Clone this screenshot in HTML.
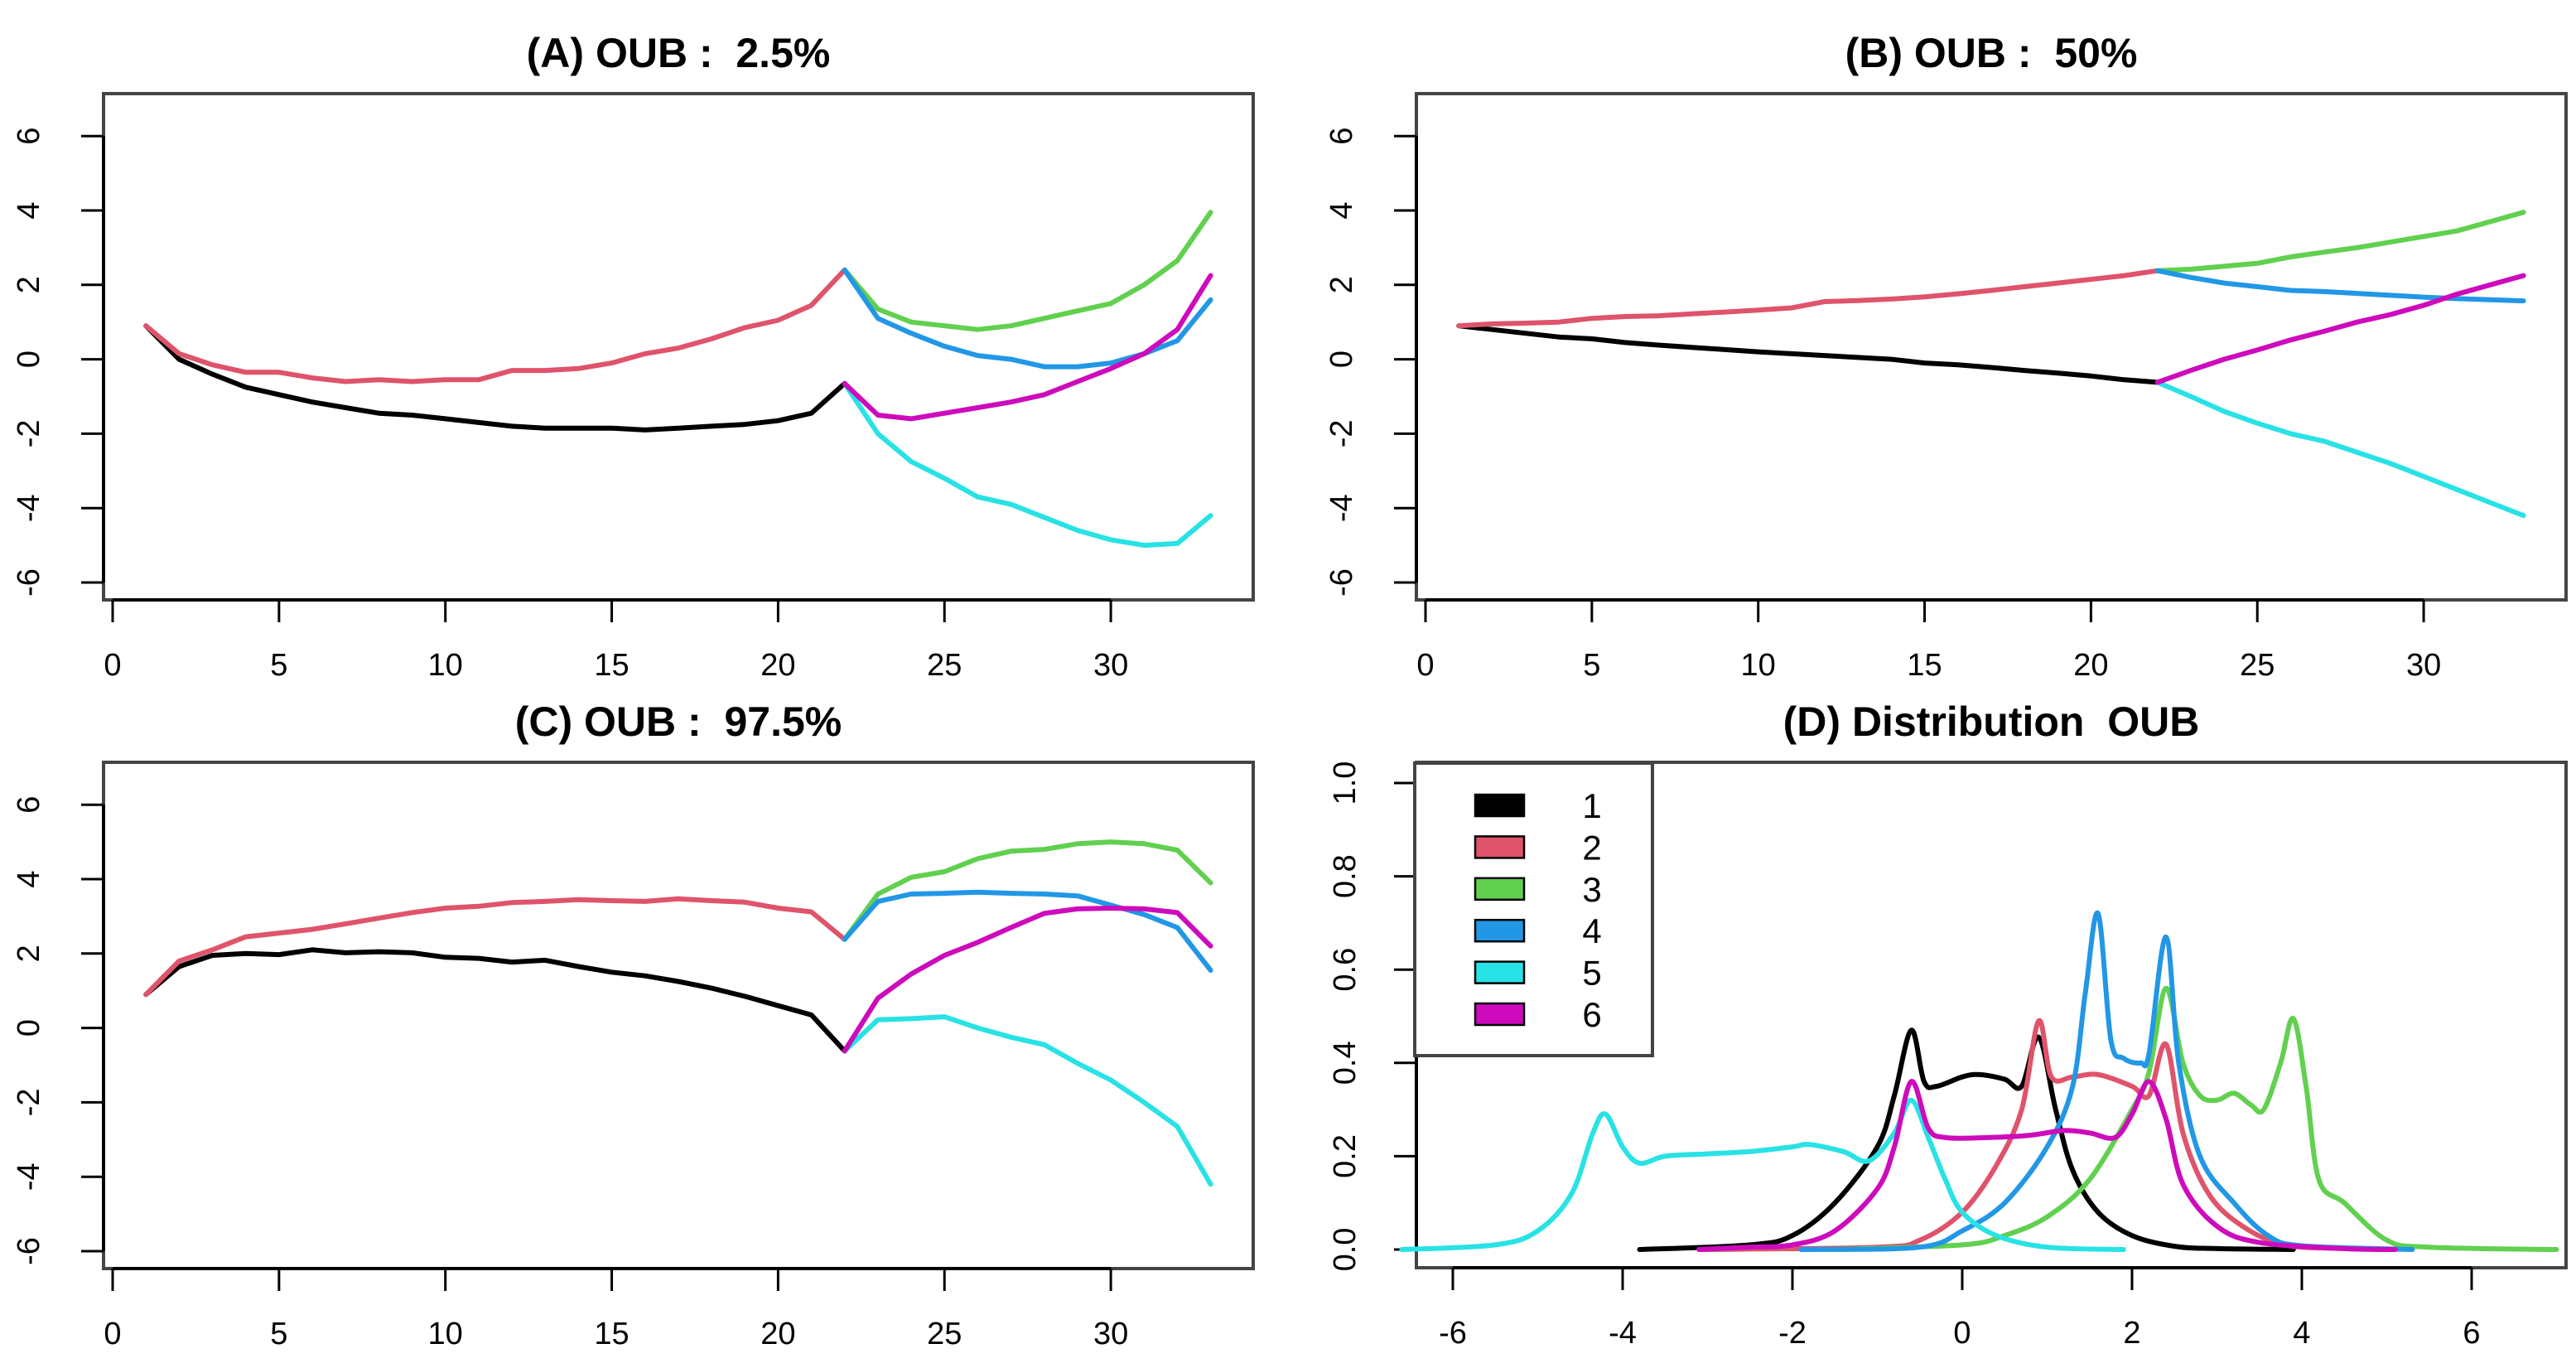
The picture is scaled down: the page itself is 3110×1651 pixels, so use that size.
<!DOCTYPE html>
<html><head><meta charset="utf-8"><style>
html,body{margin:0;padding:0;background:#fff;}
svg{display:block;font-family:"Liberation Sans",sans-serif;}
</style></head>
<body>
<svg id="fig" width="3110" height="1651" viewBox="0 0 3110 1651" xmlns="http://www.w3.org/2000/svg"></svg>
<script>
const COLORS = ["#000000","#DF536B","#61D04F","#2297E6","#28E2E5","#CD0BBC"];
const xTicks = [0,5,10,15,20,25,30];
const yTicks = [-6,-4,-2,0,2,4,6];
const stepsA = [1,2,3,4,5,6,7,8,9,10,11,12,13,14,15,16,17,18,19,20,21,22];
const stepsB = [22,23,24,25,26,27,28,29,30,31,32,33];

const aBlack = [0.9,0.0,-0.4,-0.75,-0.95,-1.15,-1.3,-1.45,-1.5,-1.6,-1.7,-1.8,-1.85,-1.85,-1.85,-1.9,-1.85,-1.8,-1.75,-1.65,-1.45,-0.65];
const aRed = [0.9,0.15,-0.15,-0.35,-0.35,-0.5,-0.6,-0.55,-0.6,-0.55,-0.55,-0.3,-0.3,-0.25,-0.1,0.15,0.3,0.55,0.85,1.05,1.45,2.4];
const aGreen = [2.4,1.35,1.0,0.9,0.8,0.9,1.1,1.3,1.5,2.0,2.65,3.95];
const aBlue = [2.4,1.1,0.7,0.35,0.1,0.0,-0.2,-0.2,-0.1,0.15,0.5,1.6];
const aCyan = [-0.65,-2.0,-2.75,-3.2,-3.7,-3.9,-4.25,-4.6,-4.85,-5.0,-4.95,-4.2];
const aMag = [-0.65,-1.5,-1.6,-1.45,-1.3,-1.15,-0.95,-0.6,-0.25,0.15,0.8,2.25];

const bBlack = [0.9,0.8,0.7,0.6,0.55,0.45,0.38,0.32,0.26,0.2,0.15,0.1,0.05,0.0,-0.1,-0.15,-0.22,-0.3,-0.37,-0.45,-0.55,-0.62];
const bRed = [0.9,0.95,0.97,1.0,1.1,1.15,1.17,1.22,1.27,1.32,1.38,1.55,1.58,1.62,1.68,1.76,1.85,1.95,2.05,2.15,2.25,2.38];
const bGreen = [2.38,2.42,2.5,2.58,2.75,2.88,3.0,3.15,3.3,3.45,3.7,3.95];
const bBlue = [2.38,2.2,2.05,1.95,1.85,1.82,1.77,1.72,1.67,1.63,1.6,1.57];
const bCyan = [-0.62,-1.0,-1.4,-1.72,-2.0,-2.2,-2.5,-2.8,-3.15,-3.5,-3.85,-4.2];
const bMag = [-0.62,-0.3,0.0,0.25,0.52,0.75,1.0,1.2,1.45,1.75,2.0,2.25];

const cBlack = [0.9,1.65,1.95,2.0,1.97,2.1,2.02,2.05,2.02,1.9,1.87,1.77,1.82,1.65,1.5,1.4,1.25,1.07,0.85,0.6,0.35,-0.62];
const cRed = [0.9,1.8,2.1,2.45,2.55,2.65,2.8,2.95,3.1,3.22,3.27,3.37,3.4,3.45,3.42,3.4,3.47,3.42,3.38,3.22,3.12,2.38];
const cGreen = [2.38,3.6,4.05,4.2,4.55,4.75,4.8,4.95,5.0,4.95,4.78,3.9];
const cBlue = [2.38,3.4,3.6,3.62,3.65,3.62,3.6,3.55,3.3,3.05,2.7,1.55];
const cCyan = [-0.62,0.22,0.25,0.3,0.0,-0.25,-0.45,-0.95,-1.4,-2.0,-2.65,-4.2];
const cMag = [-0.62,0.8,1.45,1.95,2.3,2.7,3.08,3.2,3.22,3.2,3.1,2.2];

const dXTicks = [-6,-4,-2,0,2,4,6];
const dYTicks = [0.0,0.2,0.4,0.6,0.8,1.0];
const dYLabels = ["0.0","0.2","0.4","0.6","0.8","1.0"];
const d1x = [-3.8,-2.5,-2,-1.5,-1.0,-0.8,-0.6,-0.45,-0.3,0,0.2,0.5,0.7,0.9,1.1,1.3,1.6,2,2.5,3,3.9];
const d1y = [0,0.01,0.03,0.1,0.22,0.33,0.47,0.36,0.35,0.37,0.375,0.365,0.35,0.455,0.3,0.17,0.08,0.03,0.007,0.002,0];
const d2x = [-3.1,-1,-0.5,0,0.4,0.7,0.9,1.05,1.3,1.6,2.0,2.2,2.4,2.6,2.9,3.3,3.8,4.5,5];
const d2y = [0,0.005,0.02,0.08,0.18,0.3,0.49,0.37,0.37,0.375,0.35,0.33,0.44,0.25,0.12,0.05,0.01,0.002,0];
const d3x = [-1.5,0,0.5,1,1.5,2.0,2.2,2.4,2.6,2.8,3.0,3.2,3.4,3.55,3.75,3.9,4.05,4.2,4.5,5,5.5,7];
const d3y = [0,0.01,0.03,0.07,0.15,0.3,0.38,0.56,0.4,0.33,0.32,0.335,0.31,0.3,0.4,0.495,0.35,0.15,0.1,0.02,0.005,0];
const d4x = [-1.9,-0.5,0,0.5,1.0,1.3,1.45,1.6,1.75,1.9,2.1,2.2,2.4,2.55,2.8,3.2,3.6,4,5.3];
const d4y = [0,0.005,0.04,0.1,0.22,0.35,0.55,0.72,0.45,0.41,0.4,0.42,0.67,0.4,0.2,0.1,0.03,0.008,0];
const d5x = [-6.6,-5.5,-5,-4.6,-4.35,-4.2,-4.0,-3.8,-3.5,-3,-2.5,-2,-1.8,-1.4,-1.1,-0.8,-0.6,-0.4,-0.2,0,0.4,1,1.9];
const d5y = [0,0.01,0.04,0.12,0.25,0.29,0.22,0.185,0.2,0.205,0.21,0.22,0.225,0.21,0.19,0.25,0.32,0.24,0.15,0.08,0.03,0.005,0];
const d6x = [-3.1,-2.5,-2,-1.5,-1.0,-0.8,-0.6,-0.4,-0.2,0.3,0.8,1.2,1.5,1.8,2.0,2.2,2.4,2.6,3,3.5,4.5,5.1];
const d6y = [0,0.005,0.01,0.04,0.13,0.22,0.36,0.26,0.24,0.24,0.245,0.255,0.25,0.24,0.29,0.36,0.28,0.14,0.05,0.015,0.002,0];
const legendLabels = ["1","2","3","4","5","6"];

const NS = "http://www.w3.org/2000/svg";
const svg = document.getElementById("fig");
function mk(tag, attrs, parent){
  const e = document.createElementNS(NS, tag);
  for (const k in attrs) e.setAttribute(k, attrs[k]);
  (parent||svg).appendChild(e);
  return e;
}

function panel(key, title, box, xAx, yAx, xt, yt, ytl, labX){
  const g = mk("g", {});
  
  
  const t = mk("text", {x:(box.l+box.r)/2, y:box.t-32, "text-anchor":"middle", "font-size":50, "font-weight":"bold", "xml:space":"preserve", style:"white-space:pre"}, g);
  t.textContent = title;
  
  
  const r = mk("rect", {x:box.l, y:box.t, width:box.r-box.l, height:box.b-box.t, fill:"none", stroke:"#444", "stroke-width":4}, g);
  
  
  const xa = mk("g", {}, g);
  
  
  mk("line", {x1:xAx(xt[0]), x2:xAx(xt[xt.length-1]), y1:box.b, y2:box.b, stroke:"#000", "stroke-width":4}, xa);
  xt.forEach(v=>{
    mk("line", {x1:xAx(v), x2:xAx(v), y1:box.b, y2:box.b+27, stroke:"#000", "stroke-width":3}, xa);
    const tx = mk("text", {x:xAx(v), y:box.b+91, "text-anchor":"middle", "font-size":38}, xa);
    tx.textContent = String(v);
    
    
  });
  const ya = mk("g", {}, g);
  
  
  mk("line", {x1:box.l, x2:box.l, y1:yAx(yt[0]), y2:yAx(yt[yt.length-1]), stroke:"#000", "stroke-width":4}, ya);
  yt.forEach((v,i)=>{
    mk("line", {x1:box.l-27, x2:box.l, y1:yAx(v), y2:yAx(v), stroke:"#000", "stroke-width":3}, ya);
    const lx = labX, ly = yAx(v);
    const tx = mk("text", {x:lx, y:ly, "text-anchor":"middle", "font-size":38, transform:`rotate(-90 ${lx} ${ly})`}, ya);
    tx.textContent = ytl[i];
    
    
  });
  return g;
}

function line(g, name, xs, ys, xAx, yAx, color, smooth){
  let pts = xs.map((x,i)=>[xAx(x), yAx(ys[i])]);
  let d;
  if (!smooth) d = "M" + pts.map(p=>p[0].toFixed(1)+","+p[1].toFixed(1)).join(" L");
  else {
    d = "M"+pts[0][0]+","+pts[0][1];
    for (let i=0;i<pts.length-1;i++){
      const p0=pts[Math.max(0,i-1)], p1=pts[i], p2=pts[i+1], p3=pts[Math.min(pts.length-1,i+2)];
      const c1=[p1[0]+(p2[0]-p0[0])/6, p1[1]+(p2[1]-p0[1])/6];
      const c2=[p2[0]-(p3[0]-p1[0])/6, p2[1]-(p3[1]-p1[1])/6];
      d+=` C${c1[0].toFixed(1)},${c1[1].toFixed(1)} ${c2[0].toFixed(1)},${c2[1].toFixed(1)} ${p2[0].toFixed(1)},${p2[1].toFixed(1)}`;
    }
  }
  const p = mk("path", {d, fill:"none", stroke:color, "stroke-width":6, "stroke-linejoin":"round", "stroke-linecap":"round"}, g);
  
  
}

function tsPanel(key, title, bx, by, s){
  const box = {l:bx, r:bx+1388, t:by, b:by+611};
  const xAx = v => bx + 11 + v*40.17;
  const yAx = v => by + 320.6 - v*44.9;
  const g = panel(key, title, box, xAx, yAx, xTicks, yTicks, yTicks.map(String), bx-78);
  line(g, key+"-series-1", stepsA, s[0], xAx, yAx, COLORS[0]);
  line(g, key+"-series-2", stepsA, s[1], xAx, yAx, COLORS[1]);
  line(g, key+"-series-3", stepsB, s[2], xAx, yAx, COLORS[2]);
  line(g, key+"-series-4", stepsB, s[3], xAx, yAx, COLORS[3]);
  line(g, key+"-series-5", stepsB, s[4], xAx, yAx, COLORS[4]);
  line(g, key+"-series-6", stepsB, s[5], xAx, yAx, COLORS[5]);
}

tsPanel("panel-a", "(A) OUB :  2.5%", 125, 113, [aBlack,aRed,aGreen,aBlue,aCyan,aMag]);
tsPanel("panel-b", "(B) OUB :  50%", 1710, 113, [bBlack,bRed,bGreen,bBlue,bCyan,bMag]);
tsPanel("panel-c", "(C) OUB :  97.5%", 125, 920, [cBlack,cRed,cGreen,cBlue,cCyan,cMag]);

// Panel D
(function(){
  const bx=1710, by=920;
  const box = {l:bx, r:3098, t:by, b:1530};
  const xAx = v => 2369 + v*102.5;
  const yAx = v => 1508 - v*563;
  const g = panel("panel-d", "(D) Distribution  OUB", box, xAx, yAx, dXTicks, dYTicks, dYLabels, bx-74);
  const XS=[d1x,d2x,d3x,d4x,d5x,d6x], YS=[d1y,d2y,d3y,d4y,d5y,d6y];
  [0,1,2,3,4,5].forEach(i=> line(g, "panel-d-density-"+(i+1), XS[i], YS[i], xAx, yAx, COLORS[i], true));
  const lg = mk("g", {}, g);
  
  
  mk("rect", {x:1708, y:921, width:287, height:353, fill:"#fff", stroke:"#444", "stroke-width":4}, lg);
  legendLabels.forEach((lab,i)=>{
    const cy = 972 + i*50.4;
    const e = mk("g", {}, lg);
    
    
    mk("rect", {x:1781, y:cy-13, width:59, height:26, fill:COLORS[i], stroke:"#000", "stroke-width":2.5}, e);
    const t = mk("text", {x:1922, y:cy+15, "text-anchor":"middle", "font-size":42}, e);
    t.textContent = lab;
  });
})();
</script>
</body></html>
